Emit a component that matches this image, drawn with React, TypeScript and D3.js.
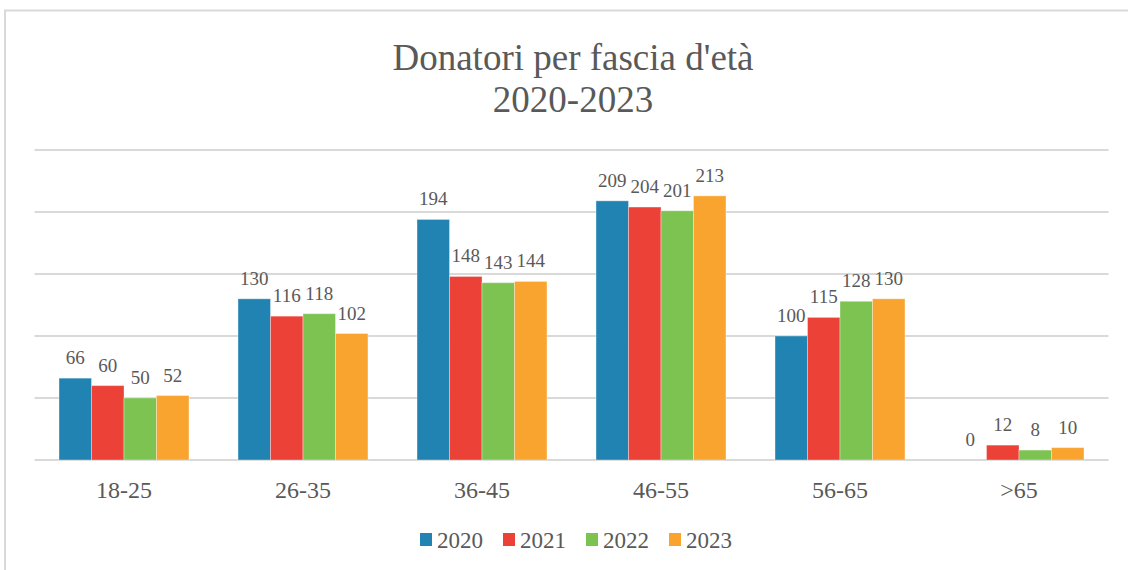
import React from "react";
import * as d3 from "d3";

const categories = ["18-25", "26-35", "36-45", "46-55", "56-65", ">65"];
const seriesNames = ["2020", "2021", "2022", "2023"];
const values2020 = [66, 130, 194, 209, 100, 0];
const values2021 = [60, 116, 148, 204, 115, 12];
const values2022 = [50, 118, 143, 201, 128, 8];
const values2023 = [52, 102, 144, 213, 130, 10];
const gridTicks = [0, 50, 100, 150, 200, 250];
const colors = ["#2083b2", "#ec4136", "#7dc352", "#f8a42f"];

const seriesValues = [values2020, values2021, values2022, values2023];

export default function App() {
  const W = 1128;
  const H = 570;
  const x = d3.scaleBand<string>().domain(categories).range([34.5, 1108.5]).paddingInner(0.274).paddingOuter(0.137);
  const xs = d3.scaleBand<string>().domain(seriesNames).range([0, x.bandwidth()]).padding(0);
  const y = d3.scaleLinear().domain([0, 250]).range([460, 150]);
  const fs = { fontFamily: "Liberation Serif" };
  const textColor = "#595959";

  const legendItemW = 83;
  const legendStart = 420;

  return (
    <svg width={W} height={H} style={{ position: "absolute", left: 0, top: 0 }}>
      <rect x={0} y={0} width={W} height={H} fill="white" />
      <rect x={5} y={10.5} width={1300} height={700} fill="none" stroke="#d9d9d9" strokeWidth={2} />
      <text x={573} y={70} textAnchor="middle" fontSize={37} fill={textColor} style={fs}>Donatori per fascia d'età</text>
      <text x={573} y={112} textAnchor="middle" fontSize={37} fill={textColor} style={fs}>2020-2023</text>
      {gridTicks.map((t) => (
        <line key={t} x1={34.5} x2={1108.5} y1={y(t)} y2={y(t)} stroke="#d9d9d9" strokeWidth={2} />
      ))}
      {categories.map((c, ci) => (
        <g key={c}>
          {seriesNames.map((s, si) => {
            const v = seriesValues[si][ci];
            const bx = (x(c) as number) + (xs(s) as number);
            return (
              <g key={s}>
                {v > 0 && (
                  <rect x={bx} y={y(v)} width={xs.bandwidth()} height={y(0) - y(v)} fill={colors[si]} stroke="#ffffff" strokeOpacity={0.35} strokeWidth={1} />
                )}
                <text x={bx + xs.bandwidth() / 2} y={y(v) - 14} textAnchor="middle" fontSize={19} fill={textColor} style={fs}>{v}</text>
              </g>
            );
          })}
          <text x={(x(c) as number) + x.bandwidth() / 2} y={498} textAnchor="middle" fontSize={24} fill={textColor} style={fs}>{c}</text>
        </g>
      ))}
      {seriesNames.map((s, si) => (
        <g key={s} transform={`translate(${legendStart + si * legendItemW},0)`}>
          <rect x={0} y={533} width={12} height={13} fill={colors[si]} />
          <text x={17} y={548} fontSize={23} fill={textColor} style={fs}>{s}</text>
        </g>
      ))}
    </svg>
  );
}
